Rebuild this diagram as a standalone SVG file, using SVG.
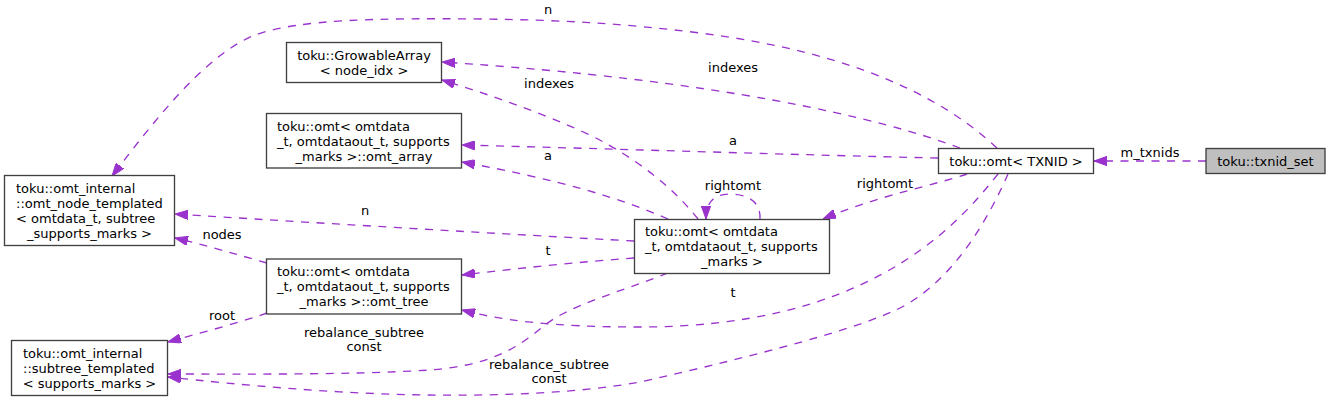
<svg xmlns="http://www.w3.org/2000/svg" width="1331" height="402" viewBox="0 0 1331 402">
<style>
text{font-family:"DejaVu Sans","Liberation Sans",sans-serif;font-size:13px;fill:#000}
.box{fill:#fff;stroke:#404040;stroke-width:1.33}
.gray{fill:#bfbfbf}
.e{fill:none;stroke:#9a32cd;stroke-width:1.33;stroke-dasharray:8,7.5;marker-end:url(#ah)}
.m{text-anchor:middle}
</style>
<defs>
<marker id="ah" viewBox="0 0 13 9.4" refX="13" refY="4.7" markerWidth="13" markerHeight="9.4" markerUnits="userSpaceOnUse" orient="auto">
<path d="M0,0 L13,4.7 L0,9.4 z" fill="#9a32cd" stroke="#9a32cd" stroke-width="1"/>
</marker>
</defs>
<rect width="1331" height="402" fill="#fff"/>
<g id="connectors">
<path class="e" d="M1206,161 L1094,161"/>
<path class="e" d="M997,148 C940,95 850,52 700,33 C620,23 560,20 480,19 C380,18 300,19 255,35 C205,55 155,120 112,176"/>
<path class="e" d="M960,148 C880,118 720,80 442,62"/>
<path class="e" d="M938,158 C800,155 620,149 462,145"/>
<path class="e" d="M967,174 C935,185 880,195 823,219"/>
<path class="e" d="M998,174 C950,235 860,327 640,327 C550,327 500,320 462,310"/>
<path class="e" d="M1008,174 C990,215 955,280 900,308 C860,328 760,355 640,382 C580,393 500,396 427,395 C340,394 240,385 168,377"/>
<path class="e" d="M668,273 C620,292 570,305 545,325 C515,350 490,365 430,370 C350,375 250,374 168,374"/>
<path class="e" d="M698,219 C675,190 640,160 590,135 C540,112 490,95 442,80"/>
<path class="e" d="M668,219 C620,198 560,180 462,162"/>
<path class="e" d="M760,219 C761,200 745,194 730,194 C715,194 706,201 706,219"/>
<path class="e" d="M634,241 C520,235 300,222 175,214"/>
<path class="e" d="M634,258 C580,262 520,268 462,275"/>
<path class="e" d="M267,263 C235,254 205,245 175,238"/>
<path class="e" d="M267,313 C235,324 200,333 168,342"/>
<g class="labels">
<text class="m" x="1150" y="157">m_txnids</text>
<text class="m" x="548" y="14">n</text>
<text class="m" x="733" y="72">indexes</text>
<text class="m" x="733" y="145">a</text>
<text class="m" x="885" y="188">rightomt</text>
<text class="m" x="733" y="297">t</text>
<text class="m" x="549" y="368.5">rebalance_subtree</text>
<text class="m" x="549" y="383">const</text>
<text class="m" x="549" y="88">indexes</text>
<text class="m" x="548" y="160">a</text>
<text class="m" x="733" y="190">rightomt</text>
<text class="m" x="365" y="215">n</text>
<text class="m" x="548" y="255">t</text>
<text class="m" x="364" y="337">rebalance_subtree</text>
<text class="m" x="364" y="351">const</text>
<text class="m" x="222" y="239">nodes</text>
<text class="m" x="222" y="320">root</text>
</g>
</g>
<g id="txnid_set">
<rect class="box gray" x="1206" y="148.5" width="119" height="25"/>
<text class="m" x="1265.5" y="165.5">toku::txnid_set</text>
</g>
<g id="omt_txnid">
<rect class="box" x="938.5" y="148.5" width="155" height="25"/>
<text class="m" x="1016" y="165.5">toku::omt&lt; TXNID &gt;</text>
</g>
<g id="growable_array">
<rect class="box" x="286.5" y="42.5" width="155" height="40"/>
<text class="m" x="364" y="59.5">toku::GrowableArray</text>
<text class="m" x="364" y="74.5">&lt; node_idx &gt;</text>
</g>
<g id="omt_array">
<rect class="box" x="266.5" y="113.5" width="195" height="54.5"/>
<text x="277" y="130.5">toku::omt&lt; omtdata</text>
<text x="277" y="145.5">_t, omtdataout_t, supports</text>
<text class="m" x="364" y="160.5">_marks &gt;::omt_array</text>
</g>
<g id="omt_tree">
<rect class="box" x="266.5" y="259" width="195" height="55"/>
<text x="277" y="276">toku::omt&lt; omtdata</text>
<text x="277" y="291">_t, omtdataout_t, supports</text>
<text class="m" x="364" y="306">_marks &gt;::omt_tree</text>
</g>
<g id="omt_generic">
<rect class="box" x="634.5" y="219.5" width="195" height="54"/>
<text x="645" y="235.5">toku::omt&lt; omtdata</text>
<text x="645" y="250.5">_t, omtdataout_t, supports</text>
<text class="m" x="732" y="265.5">_marks &gt;</text>
</g>
<g id="omt_node_templated">
<rect class="box" x="4.5" y="175.5" width="170" height="70"/>
<text x="16" y="192.5">toku::omt_internal</text>
<text x="16" y="207.5">::omt_node_templated</text>
<text x="16" y="222.5">&lt; omtdata_t, subtree</text>
<text class="m" x="89.5" y="237.5">_supports_marks &gt;</text>
</g>
<g id="subtree_templated">
<rect class="box" x="11.5" y="340.5" width="156" height="55"/>
<text x="23" y="357.5">toku::omt_internal</text>
<text x="23" y="372.5">::subtree_templated</text>
<text class="m" x="89.5" y="387.5">&lt; supports_marks &gt;</text>
</g>
</svg>
